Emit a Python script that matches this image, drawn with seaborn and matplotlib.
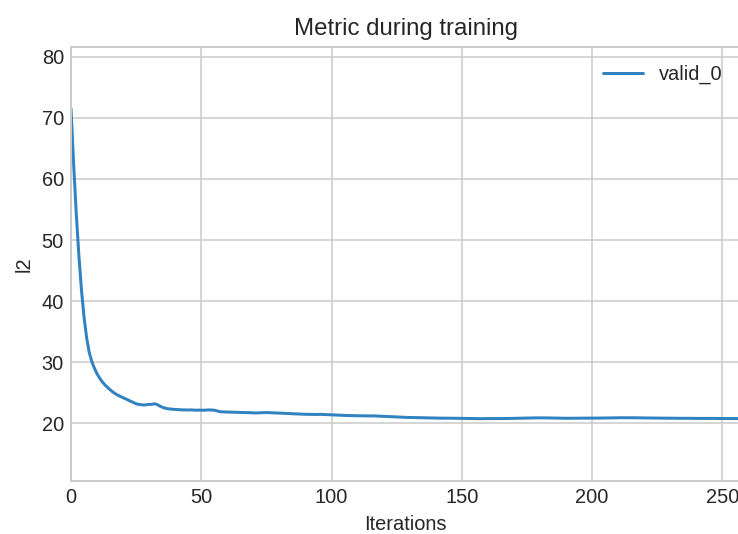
import numpy as np
import pandas as pd
import matplotlib
matplotlib.use("Agg")
import matplotlib.pyplot as plt
import seaborn as sns

title = "Metric during training"
x_label = "Iterations"
y_label = "l2"
series_name = "valid_0"

l2_values = [
    71.5, 62.5, 54.5, 47.6, 41.9, 37.4, 34.0, 31.6, 30.1, 29.0,
    28.1, 27.4, 26.8, 26.3, 25.9, 25.5, 25.15, 24.85, 24.6, 24.4,
    24.2, 24.0, 23.8, 23.6, 23.4, 23.2, 23.1, 23.05, 23.0, 23.05,
    23.1, 23.1, 23.2, 23.1, 22.85, 22.65, 22.5, 22.4, 22.35, 22.3,
    22.28, 22.25, 22.22, 22.2, 22.2, 22.18, 22.2, 22.17, 22.15, 22.17,
    22.15, 22.15, 22.18, 22.2, 22.18, 22.15, 22.05, 21.92, 21.88, 21.86,
    21.85, 21.84, 21.84, 21.82, 21.8, 21.78, 21.78, 21.75, 21.76, 21.74,
    21.72, 21.7, 21.72, 21.74, 21.76, 21.77, 21.75, 21.72, 21.7, 21.68,
    21.66, 21.64, 21.62, 21.6, 21.58, 21.56, 21.55, 21.53, 21.52, 21.5,
    21.48, 21.47, 21.46, 21.45, 21.45, 21.46, 21.47, 21.45, 21.43, 21.42,
    21.4, 21.38, 21.36, 21.33, 21.31, 21.3, 21.28, 21.27, 21.26, 21.25,
    21.25, 21.24, 21.23, 21.22, 21.22, 21.23, 21.22, 21.2, 21.18, 21.16,
    21.15, 21.13, 21.11, 21.09, 21.07, 21.05, 21.03, 21.01, 20.99, 20.97,
    20.96, 20.94, 20.93, 20.92, 20.91, 20.9, 20.89, 20.88, 20.87, 20.86,
    20.86, 20.85, 20.85, 20.85, 20.84, 20.84, 20.84, 20.83, 20.83, 20.82,
    20.82, 20.81, 20.8, 20.79, 20.78, 20.77, 20.76, 20.76, 20.77, 20.78,
    20.78, 20.79, 20.78, 20.78, 20.78, 20.79, 20.78, 20.79, 20.8, 20.81,
    20.82, 20.83, 20.84, 20.85, 20.86, 20.87, 20.88, 20.88, 20.89, 20.9,
    20.9, 20.91, 20.9, 20.89, 20.88, 20.87, 20.86, 20.85, 20.84, 20.84,
    20.83, 20.83, 20.83, 20.84, 20.84, 20.85, 20.85, 20.85, 20.84, 20.85,
    20.85, 20.86, 20.86, 20.87, 20.87, 20.88, 20.88, 20.89, 20.9, 20.9,
    20.91, 20.92, 20.92, 20.93, 20.93, 20.92, 20.92, 20.91, 20.9, 20.9,
    20.89, 20.88, 20.88, 20.87, 20.87, 20.86, 20.86, 20.85, 20.85, 20.84,
    20.84, 20.84, 20.83, 20.83, 20.83, 20.82, 20.82, 20.82, 20.82, 20.81,
    20.81, 20.81, 20.81, 20.8, 20.8, 20.8, 20.8, 20.8, 20.79, 20.79,
    20.79, 20.79, 20.79, 20.79, 20.78, 20.78, 20.78,
]

iterations = list(range(len(l2_values)))
df = pd.DataFrame({"iteration": iterations, "l2": l2_values, "name": series_name})

sns.set_style("whitegrid")
plt.rcParams["font.family"] = ["Liberation Sans", "DejaVu Sans"]
plt.rcParams["text.color"] = ".15"
plt.rcParams["axes.labelcolor"] = ".15"

DPI = 144
fig = plt.figure(figsize=(738 / DPI, 534 / DPI), dpi=DPI)
W, H = 738.0, 534.0
left, right, top, bottom = 71.0, 740.6, 46.7, 480.7
ax = fig.add_axes([left / W, 1 - bottom / H, (right - left) / W, (bottom - top) / H])

sns.lineplot(data=df, x="iteration", y="l2", hue="name", ax=ax,
             palette=["#3182c0"], linewidth=1.5)

vmin, vmax = min(l2_values), max(l2_values)
rng = vmax - vmin
ax.set_xlim(0, len(l2_values))
ax.set_ylim(vmin - rng * 0.2, vmax + rng * 0.2)

ax.set_title(title, fontsize=12, color=".15")
ax.set_xlabel(x_label, fontsize=10)
ax.set_ylabel(y_label, fontsize=10)
ax.tick_params(labelsize=10, colors=".15", length=0)
for s in ax.spines.values():
    s.set_color(".8")
    s.set_linewidth(1)
ax.grid(True, color=".8", linewidth=0.8)

leg = ax.legend(loc="upper right", frameon=False, fontsize=10)

fig.savefig("out.png", dpi=DPI)
